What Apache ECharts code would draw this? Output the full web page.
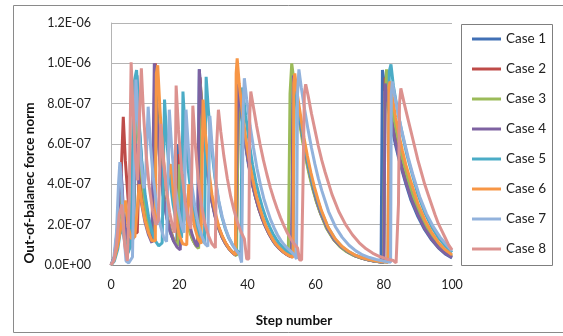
<!DOCTYPE html>
<html>
<head>
<meta charset="utf-8">
<script src="https://cdn.jsdelivr.net/npm/echarts@6/dist/echarts.min.js"></script>
<style>
  html, body { margin: 0; padding: 0; background: #fff; }
  #chart { width: 563px; height: 336px; }
</style>
</head>
<body>
<div id="chart"></div>
<script>
// values are in units of 1E-07 as [step, value]
const caseNames = ['Case 1', 'Case 2', 'Case 3', 'Case 4', 'Case 5', 'Case 6', 'Case 7', 'Case 8']
const caseColors = ['#4170B5', '#BE4B48', '#9BBB59', '#7E62A1', '#4BACC6', '#F79646', '#92B2DC', '#DC928F']

const case1 = [[0,0],[1,0.3],[2,1.8],[3,4.5],[3.7,2.2],[4.5,1.2],[5.5,0.8],[6.6,1.4],[7.6,9.4],[8.3,6.8],[9.1,4.8],[10,3.3],[11,2.2],[12,1.5],[12.4,1.3],[12.8,9.6],[13.5,7.1],[14.4,4.9],[15.4,3.3],[16.4,2.3],[17.4,1.6],[18.4,1.2],[19.3,1.0],[19.8,6.0],[20.5,4.4],[21.5,3.0],[22.5,2.1],[23.5,1.5],[24.5,1.1],[25.4,0.9],[25.9,9.7],[26.6,7.7],[27.5,5.9],[28.5,4.4],[29.5,3.3],[30.5,2.5],[31.5,1.9],[32.5,1.45],[33.5,1.1],[34.5,0.85],[35.5,0.65],[36.5,0.5],[37.0,0.45],[37.3,8.8],[38.3,7.4],[39.3,6.1],[40.3,5.0],[41.3,4.1],[42.3,3.4],[43.3,2.8],[44.3,2.3],[45.3,1.9],[46.3,1.55],[47.3,1.25],[48.3,1.0],[49.3,0.82],[50.3,0.67],[51.3,0.55],[52.3,0.45],[53.0,0.4],[53.4,9.4],[54.4,8.2],[55.4,7.1],[56.4,6.1],[57.4,5.2],[58.4,4.4],[59.4,3.7],[60.4,3.1],[61.4,2.6],[63.4,1.8],[65.4,1.25],[67.4,0.9],[69.4,0.65],[71.4,0.47],[73.4,0.35],[75.4,0.26],[77.4,0.19],[79.2,0.15],[79.6,9.67],[80.5,8.6],[81.5,7.6],[82.5,6.7],[83.5,5.9],[84.5,5.2],[85.5,4.6],[86.5,4.0],[88,3.2],[90,2.4],[92,1.75],[94,1.25],[96,0.85],[98,0.55],[100,0.35]]

const case2 = [[0,0],[1,0.4],[2,1.6],[3,4.6],[3.6,7.35],[4.2,5.2],[5,3.3],[6,2.1],[7,1.6],[7.7,1.6],[8.4,5.5],[9.1,3.9],[10,2.7],[11,1.9],[12,1.3],[12.6,1.2],[13,10.0],[13.6,7.5],[14.5,5.2],[15.5,3.5],[16.5,2.4],[17.5,1.7],[18.5,1.2],[19.5,0.95],[20,5.5],[20.8,3.9],[21.8,2.7],[22.8,1.9],[23.8,1.35],[24.8,1.0],[25.6,0.85],[26.1,9.3],[26.8,7.4],[27.7,5.6],[28.7,4.2],[29.7,3.1],[30.7,2.35],[31.7,1.8],[32.7,1.35],[33.7,1.05],[34.7,0.8],[35.7,0.62],[36.7,0.48],[37.2,0.43],[37.5,8.7],[38.5,7.3],[39.5,6.0],[40.5,4.9],[41.5,4.0],[42.5,3.3],[43.5,2.7],[44.5,2.25],[45.5,1.85],[46.5,1.5],[47.5,1.22],[48.5,1.0],[49.5,0.8],[50.5,0.65],[51.5,0.53],[52.5,0.44],[53.1,0.4],[53.5,9.3],[54.5,8.1],[55.5,7.0],[56.5,6.0],[57.5,5.1],[58.5,4.3],[59.5,3.65],[60.5,3.05],[61.5,2.55],[63.5,1.78],[65.5,1.23],[67.5,0.88],[69.5,0.64],[71.5,0.46],[73.5,0.34],[75.5,0.25],[77.5,0.18],[80.0,0.14],[80.4,9.3],[81.3,8.3],[82.3,7.3],[83.3,6.4],[84.3,5.6],[85.3,4.9],[86.3,4.3],[88,3.4],[90,2.55],[92,1.85],[94,1.32],[96,0.9],[98,0.6],[100,0.4]]

const case3 = [[0,0],[1,0.3],[2,1.2],[3,3.5],[3.8,2.0],[4.6,1.2],[5.5,1.0],[6.5,1.8],[7.4,8.5],[8.1,6.3],[9,4.4],[10,3.0],[11,2.0],[12,1.4],[12.6,1.25],[13,9.1],[13.7,6.9],[14.6,4.8],[15.6,3.3],[16.6,2.25],[17.6,1.6],[18.6,1.15],[19.6,0.95],[20.1,5.0],[20.9,3.6],[21.9,2.5],[22.9,1.75],[23.9,1.25],[24.9,0.95],[25.7,0.82],[26.2,9.0],[26.9,7.1],[27.8,5.4],[28.8,4.0],[29.8,3.0],[30.8,2.25],[31.8,1.7],[32.8,1.3],[33.8,1.0],[34.8,0.77],[35.8,0.6],[36.8,0.46],[37.1,0.44],[37.4,8.9],[38.4,7.5],[39.4,6.2],[40.4,5.1],[41.4,4.2],[42.4,3.45],[43.4,2.85],[44.4,2.35],[45.4,1.95],[46.4,1.6],[47.4,1.3],[48.4,1.05],[49.4,0.85],[50.4,0.7],[52.0,0.55],[52.5,8.5],[53.0,10.0],[53.3,9.6],[54.1,8.4],[55.1,7.3],[56.1,6.2],[57.1,5.3],[58.1,4.5],[59.1,3.8],[60.1,3.2],[61.1,2.7],[63.1,1.85],[65.1,1.3],[67.1,0.92],[69.1,0.66],[71.1,0.48],[73.1,0.36],[75.1,0.27],[77.1,0.2],[79.9,0.14],[80.3,7.5],[80.8,9.7],[81.6,8.6],[82.6,7.6],[83.6,6.7],[84.6,5.9],[85.6,5.2],[86.6,4.55],[88,3.7],[90,2.75],[92,2.0],[94,1.45],[96,1.0],[98,0.68],[100,0.45]]

const case4 = [[0,0],[1,0.4],[2,2.0],[2.8,5.0],[3.5,3.2],[4.3,1.7],[5.2,1.1],[6.2,1.4],[7.2,6.0],[8,4.4],[9,3.0],[10,2.1],[11,1.5],[12,1.1],[12.3,1.05],[12.7,10.0],[13.4,7.5],[14.3,5.2],[15.3,3.5],[16.3,2.4],[17.3,1.7],[18.3,1.2],[19.3,0.9],[20.3,0.75],[21,4.5],[21.8,3.2],[22.8,2.2],[23.8,1.5],[24.8,1.05],[25.4,0.9],[25.9,9.7],[26.6,7.7],[27.5,5.8],[28.5,4.3],[29.5,3.2],[30.5,2.4],[31.5,1.85],[32.5,1.4],[33.5,1.07],[34.5,0.82],[35.5,0.63],[36.5,0.49],[36.9,0.45],[37.2,9.0],[38.2,7.6],[39.2,6.3],[40.2,5.2],[41.2,4.3],[42.2,3.5],[43.2,2.9],[44.2,2.4],[45.2,1.95],[46.2,1.6],[47.2,1.3],[48.2,1.05],[49.2,0.86],[50.2,0.7],[51.2,0.57],[52.2,0.46],[53.0,0.4],[53.5,9.4],[54.5,8.2],[55.5,7.1],[56.5,6.1],[57.5,5.2],[58.5,4.4],[59.5,3.7],[60.5,3.1],[61.5,2.6],[63.5,1.8],[65.5,1.25],[67.5,0.9],[69.5,0.65],[71.5,0.47],[73.5,0.35],[75.5,0.26],[77.5,0.19],[80.0,0.14],[80.4,9.0],[81.3,8.1],[82.3,7.1],[83.3,6.2],[84.3,5.45],[85.3,4.8],[86.3,4.2],[88,3.3],[90,2.5],[92,1.8],[94,1.3],[96,0.88],[98,0.58],[100,0.38]]

const case5 = [[0,0],[1,0.2],[2,0.8],[3,2.0],[4,1.2],[5,0.6],[5.8,1.0],[6.7,9.0],[7.5,9.67],[8.2,7.2],[9,5.2],[10,3.5],[11,2.4],[12,1.65],[13,1.2],[14,0.95],[15,1.1],[15.7,8.2],[16.4,6.1],[17.2,4.4],[18.2,3.0],[19.2,2.1],[20.2,1.5],[20.7,1.35],[21.1,8.6],[21.8,6.5],[22.6,4.8],[23.6,3.3],[24.6,2.3],[25.6,1.65],[26.6,1.25],[27.4,1.1],[27.9,9.33],[28.6,7.6],[29.5,5.8],[30.5,4.3],[31.5,3.2],[32.5,2.4],[33.5,1.8],[34.5,1.35],[35.5,1.05],[36.5,0.8],[37.5,0.62],[38.1,0.55],[38.5,8.8],[39.5,7.4],[40.5,6.1],[41.5,5.0],[42.5,4.1],[43.5,3.4],[44.5,2.8],[45.5,2.3],[46.5,1.9],[47.5,1.55],[48.5,1.27],[49.5,1.04],[50.5,0.85],[51.5,0.7],[52.5,0.57],[53.4,0.48],[53.8,9.2],[54.8,8.0],[55.8,6.9],[56.8,5.9],[57.8,5.05],[58.8,4.3],[59.8,3.65],[60.8,3.1],[61.8,2.6],[63.8,1.82],[65.8,1.27],[67.8,0.9],[69.8,0.65],[71.8,0.47],[73.8,0.35],[75.8,0.26],[77.8,0.19],[81.2,0.13],[81.6,9.6],[82.1,9.95],[82.8,8.9],[83.8,7.9],[84.8,7.0],[85.8,6.2],[86.8,5.45],[88,4.7],[90,3.5],[92,2.6],[94,1.9],[96,1.35],[98,0.95],[100,0.62]]

const case6 = [[0,0],[1,0.3],[2,1.0],[3,2.0],[4.3,3.2],[5,1.9],[6,1.3],[7,1.4],[8.3,4.0],[9,3.1],[10,2.2],[11,1.6],[12,1.2],[13,1.2],[13.3,9.5],[13.7,9.9],[14.4,7.6],[15.2,5.6],[16.2,3.9],[17,4.6],[17.6,5.0],[18.3,3.5],[19.2,2.2],[20,1.5],[21,1.05],[22.2,1.0],[22.8,4.0],[23.5,2.9],[24.5,1.9],[25.5,1.3],[26.4,1.05],[27,8.2],[27.7,6.5],[28.6,4.8],[29.6,3.5],[30.6,2.6],[31.6,1.9],[32.6,1.45],[33.6,1.1],[34.6,0.82],[35.6,0.63],[36.5,0.5],[36.7,9.5],[37,10.25],[37.6,9.0],[38.5,7.6],[39.5,6.3],[40.5,5.2],[41.5,4.3],[42.5,3.5],[43.5,2.9],[44.5,2.35],[45.5,1.9],[46.5,1.55],[47.5,1.25],[48.5,1.0],[49.5,0.82],[50.5,0.66],[51.5,0.54],[52.5,0.44],[53.4,0.38],[53.6,9.0],[53.9,9.5],[54.6,8.5],[55.6,7.4],[56.6,6.3],[57.6,5.4],[58.6,4.6],[59.6,3.9],[60.6,3.3],[61.6,2.75],[63.6,1.9],[65.6,1.33],[67.6,0.94],[69.6,0.68],[71.6,0.49],[73.6,0.36],[75.6,0.27],[77.6,0.2],[81.2,0.13],[81.5,8.8],[81.8,9.1],[82.5,8.3],[83.5,7.3],[84.5,6.4],[85.5,5.65],[86.5,4.95],[88,4.1],[90,3.05],[92,2.25],[94,1.62],[96,1.12],[98,0.76],[100,0.5]]

const case7 = [[0,0],[0.8,0.3],[1.6,1.6],[2.2,4.0],[2.6,5.1],[3.2,3.6],[3.8,1.5],[4.4,0.2],[5.2,0.1],[6.3,0.4],[7.3,9.2],[8,7.1],[8.8,5.2],[9.6,3.8],[10.2,4.6],[10.9,7.85],[11.6,5.9],[12.4,4.3],[13.4,2.9],[14.4,2.0],[15.4,1.4],[16.3,1.15],[17.1,7.7],[17.8,5.8],[18.7,4.1],[19.7,2.8],[20.7,1.95],[21.4,1.6],[22,7.7],[22.7,5.8],[23.6,4.1],[24.6,2.9],[25.6,2.0],[26.6,1.45],[27.6,1.05],[28.4,0.92],[29,7.4],[29.7,5.8],[30.6,4.3],[31.6,3.2],[32.6,2.4],[33.6,1.8],[34.6,1.35],[35.6,1.0],[36.6,0.75],[37.6,0.55],[38.3,0.12],[38.6,0.1],[38.8,8.0],[39.1,9.26],[39.8,8.2],[40.8,6.9],[41.8,5.8],[42.8,4.8],[43.8,4.0],[44.8,3.3],[45.8,2.75],[46.8,2.25],[47.8,1.85],[48.8,1.5],[49.8,1.22],[50.8,1.0],[51.8,0.82],[52.8,0.66],[53.8,0.5],[54.4,0.3],[54.7,8.5],[55.1,9.7],[55.8,8.8],[56.8,7.7],[57.8,6.7],[58.8,5.8],[59.8,5.0],[60.8,4.3],[61.8,3.7],[63.8,2.65],[65.8,1.9],[67.8,1.37],[69.8,0.98],[71.8,0.7],[73.8,0.5],[75.8,0.37],[77.8,0.27],[79.8,0.2],[82.0,0.14],[82.2,8.5],[82.5,9.1],[83.2,8.4],[84.2,7.5],[85.2,6.7],[86.2,6.0],[87.2,5.3],[88.5,4.5],[90.5,3.4],[92.5,2.55],[94.5,1.9],[96.5,1.38],[98.5,0.98],[100,0.7]]

const case8 = [[0,0],[0.8,0.2],[1.6,1.0],[2.4,2.5],[3.2,3.0],[4,1.0],[4.8,0.2],[5.3,3.0],[5.9,10.05],[6.5,7.6],[7.2,5.3],[7.8,4.2],[8.4,7.5],[8.9,9.75],[9.5,7.6],[10.3,5.5],[11.2,3.9],[12.2,2.7],[13.2,2.0],[13.9,2.2],[14.6,7.0],[15.3,5.3],[16.2,3.8],[17.2,2.6],[18.2,1.8],[18.7,1.6],[19.1,8.9],[19.8,6.7],[20.7,4.7],[21.7,3.2],[22.7,2.2],[23.4,1.8],[24,7.9],[24.7,6.0],[25.6,4.2],[26.6,2.9],[27.6,2.0],[28.6,1.45],[29.6,1.05],[30.6,0.85],[31,6.0],[31.5,7.7],[32.2,6.6],[33.1,5.4],[34.1,4.3],[35.1,3.4],[36.1,2.7],[37.1,2.1],[38.1,1.65],[39.1,1.3],[39.8,0.3],[40.4,0.3],[40.7,7.5],[41,8.6],[41.7,7.9],[42.7,6.9],[43.7,6.0],[44.7,5.2],[45.7,4.5],[46.7,3.85],[47.7,3.3],[48.7,2.8],[49.7,2.35],[50.7,1.95],[51.7,1.6],[52.7,1.3],[53.7,1.05],[54.7,0.85],[55.3,0.25],[55.9,0.25],[56.3,4.0],[56.7,8.5],[57.1,8.96],[57.8,8.4],[58.8,7.5],[59.8,6.7],[60.8,5.9],[61.8,5.2],[62.8,4.6],[64.8,3.5],[66.8,2.65],[68.8,2.0],[70.8,1.5],[72.8,1.1],[74.8,0.8],[76.8,0.58],[78.8,0.42],[80.8,0.3],[82.8,0.22],[83.6,0.1],[84.0,0.1],[84.3,3.0],[84.6,8.0],[85,8.76],[86,8.0],[87,7.3],[88,6.6],[89,5.9],[90,5.2],[91,4.6],[92,4.0],[93,3.5],[94,3.0],[95,2.5],[96,2.05],[97,1.7],[98,1.35],[99,1.0],[100,0.75]]

const allCases = [case1, case2, case3, case4, case5, case6, case7, case8]

const xTicks = { min: 0, max: 100, interval: 20 }
const yTicks = { min: 0, max: 1.2e-6, interval: 2e-7 }

// Excel style 1.2E-06 labels
function sci(v) {
  if (Math.abs(v) < 1e-15) return '0.0E+00'
  let e = Math.floor(Math.log10(Math.abs(v)) + 1e-9)
  let m = v / Math.pow(10, e)
  if (m >= 9.95) { m /= 10; e++ }
  const sign = e < 0 ? '-' : '+'
  const ee = String(Math.abs(e)).padStart(2, '0')
  return m.toFixed(1) + 'E' + sign + ee
}

const font = 'Lato, "Open Sans", sans-serif'
const chart = echarts.init(document.getElementById('chart'))

chart.setOption({
  animation: false,
  grid: { left: 111, right: 111, top: 23, bottom: 71 },
  xAxis: {
    type: 'value',
    min: xTicks.min, max: xTicks.max, interval: xTicks.interval,
    axisLine: { show: true, lineStyle: { color: '#8c8c8c', width: 1 } },
    axisTick: { show: false },
    axisLabel: { margin: 13, fontFamily: font, fontSize: 12.5, color: '#222' },
    splitLine: { show: false }
  },
  yAxis: {
    type: 'value',
    min: yTicks.min, max: yTicks.max, interval: yTicks.interval,
    axisLine: { show: true, lineStyle: { color: '#b4b4b4', width: 1 } },
    axisTick: { show: false },
    axisLabel: { margin: 20, fontFamily: font, fontSize: 12.5, color: '#222', formatter: sci },
    splitLine: { show: true, lineStyle: { color: '#b4b4b4', width: 1 } }
  },
  legend: {
    orient: 'vertical',
    left: 472,
    top: 32,
    icon: 'rect',
    itemWidth: 29,
    itemHeight: 3,
    itemGap: 16,
    padding: 0,
    textStyle: { fontFamily: font, fontSize: 13.5, color: '#222', lineHeight: 14 },
    data: caseNames
  },
  graphic: [
    { type: 'rect', silent: true, shape: { x: 13.5, y: 5.5, width: 560, height: 327 },
      style: { fill: null, stroke: '#8a8a8a', lineWidth: 1 } },
    { type: 'rect', silent: true, shape: { x: 461.5, y: 24.5, width: 91, height: 241 },
      style: { fill: null, stroke: '#7f7f7f', lineWidth: 1 } },
    { type: 'text', silent: true, x: 30, y: 183, rotation: Math.PI / 2,
      style: { text: 'Out-of-balanec force norm', fontFamily: font, fontSize: 13.5, fontWeight: 'bold',
        fill: '#111', align: 'center', verticalAlign: 'middle' } },
    { type: 'text', silent: true, x: 294, y: 321,
      style: { text: 'Step number', fontFamily: font, fontSize: 13.5, fontWeight: 'bold',
        fill: '#111', align: 'center', verticalAlign: 'middle' } }
  ],
  series: allCases.map((pts, i) => ({
    name: caseNames[i],
    type: 'line',
    showSymbol: false,
    symbol: 'none',
    color: caseColors[i],
    lineStyle: { width: 3, color: caseColors[i] },
    data: pts.map(p => [p[0], p[1] * 1e-7])
  }))
})
</script>
</body>
</html>
